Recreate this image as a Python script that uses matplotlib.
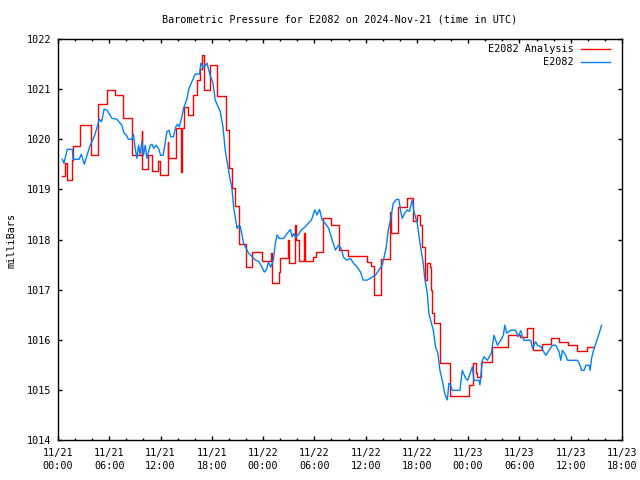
import matplotlib
matplotlib.use("Agg")
import matplotlib.pyplot as plt
import matplotlib.dates as mdates
import pandas as pd
import numpy as np

# ---- data (hours after 2024-11-21 00:00 UTC, pressure in mbar) ----
start = "2024-11-21 00:00"

obs_hours = [0.50, 0.70, 1.09, 1.68, 1.76, 2.46, 2.73, 3.08, 3.70, 4.30, 4.84, 5.10, 5.40, 5.75,
             6.29, 6.88, 7.47, 7.74, 8.00, 8.24, 8.64, 8.83, 9.03, 9.23, 9.42, 9.60, 9.81, 10.01,
             10.20, 10.40, 10.60, 10.79, 11.00, 11.20, 11.50, 11.80, 12.00, 12.30, 12.50, 12.74,
             13.00, 13.20, 13.50, 13.79, 14.00, 14.20, 14.40, 14.70, 15.10, 15.30, 15.67, 16.06,
             16.56, 16.72, 17.03, 17.43, 17.73, 18.13, 18.40, 18.99, 19.30, 19.57, 19.96, 20.16,
             20.36, 20.55, 20.95, 21.14, 21.34, 21.72, 22.11, 22.33, 22.70, 23.09, 23.50, 23.87,
             24.14, 24.40, 24.63, 24.90, 25.20, 25.43, 25.63, 25.90, 26.40, 26.81, 27.19, 27.40,
             27.60, 27.78, 28.10, 28.48, 28.90, 29.27, 29.66, 30.05, 30.30, 30.60, 30.91, 31.29,
             31.68, 32.08, 32.46, 32.85, 33.13, 33.44, 33.76, 34.23, 34.61, 35.01, 35.40, 35.71,
             36.18, 36.77, 37.16, 37.66, 37.94, 38.13, 38.41, 38.64, 38.91, 39.23, 39.61, 39.88,
             40.08, 40.28, 40.55, 40.87, 41.14, 41.34, 41.46, 41.65, 42.04, 42.43, 42.75, 42.90,
             43.22, 43.40, 43.60, 43.92, 44.18, 44.45, 44.69, 44.97, 45.24, 45.56, 45.74, 45.94,
             46.14, 47.03, 47.31, 47.70, 47.94, 48.29, 48.49, 48.67, 49.26, 49.38, 49.66, 49.85,
             50.24, 50.71, 51.02, 51.42, 51.81, 52.12, 52.28, 52.51, 52.98, 53.56, 53.83, 54.15,
             54.35, 54.54, 55.32, 55.52, 55.90, 56.10, 56.49, 57.08, 57.46, 57.86, 58.25, 58.64,
             58.83, 59.03, 59.42, 59.62, 60.79, 61.10, 61.26, 61.57, 61.77, 62.16, 62.27, 62.44,
             62.67, 62.94, 63.33, 63.61]
obs_mbar = [1019.60, 1019.52, 1019.80, 1019.80, 1019.60, 1019.60, 1019.70, 1019.50, 1019.85, 1020.08,
            1020.40, 1020.35, 1020.60, 1020.58, 1020.42, 1020.40, 1020.28, 1020.12, 1020.08, 1020.00,
            1020.00, 1020.10, 1019.82, 1019.62, 1019.88, 1019.70, 1019.95, 1019.68, 1019.88, 1019.62,
            1019.75, 1019.88, 1019.90, 1019.82, 1019.88, 1019.80, 1019.68, 1019.68, 1019.88, 1020.15,
            1020.18, 1020.05, 1020.05, 1020.25, 1020.30, 1020.25, 1020.38, 1020.62, 1020.81, 1021.00,
            1021.15, 1021.30, 1021.30, 1021.52, 1021.42, 1021.52, 1021.32, 1021.12, 1020.78, 1020.55,
            1020.25, 1019.78, 1019.38, 1019.18, 1019.02, 1018.65, 1018.22, 1018.28, 1018.26, 1017.92,
            1017.79, 1017.72, 1017.66, 1017.59, 1017.56, 1017.45, 1017.35, 1017.40, 1017.55, 1017.45,
            1017.59, 1017.92, 1018.09, 1018.02, 1018.02, 1018.12, 1018.20, 1018.05, 1018.12, 1018.05,
            1018.09, 1018.19, 1018.25, 1018.32, 1018.39, 1018.59, 1018.49, 1018.60, 1018.39, 1018.32,
            1018.22, 1017.99, 1017.79, 1017.89, 1017.82, 1017.64, 1017.59, 1017.62, 1017.52, 1017.45,
            1017.35, 1017.19, 1017.19, 1017.25, 1017.29, 1017.42, 1017.49, 1017.62, 1017.85, 1018.19,
            1018.39, 1018.72, 1018.80, 1018.80, 1018.59, 1018.42, 1018.52, 1018.59, 1018.56, 1018.72,
            1018.79, 1018.56, 1018.32, 1017.85, 1017.52, 1017.25, 1016.92, 1016.52, 1016.39, 1016.19,
            1015.86, 1015.73, 1015.39, 1015.19, 1014.93, 1014.80, 1015.13, 1015.10, 1014.99, 1014.99,
            1015.39, 1015.23, 1015.19, 1015.36, 1015.46, 1015.19, 1015.19, 1015.10, 1015.59, 1015.66,
            1015.59, 1015.73, 1016.09, 1015.89, 1015.99, 1016.09, 1016.29, 1016.13, 1016.19, 1016.19,
            1016.06, 1016.18, 1016.06, 1015.99, 1015.99, 1015.83, 1015.96, 1015.89, 1015.86, 1015.69,
            1015.79, 1015.89, 1015.89, 1015.76, 1015.59, 1015.79, 1015.69, 1015.59, 1015.59, 1015.49,
            1015.39, 1015.39, 1015.49, 1015.49, 1015.39, 1015.63, 1015.79, 1015.93, 1016.13, 1016.29]

ana_hours = [0.50, 0.82, 1.00, 1.68, 1.80, 2.58, 3.87, 4.73, 5.76, 6.65, 7.60, 8.64, 9.79, 9.87,
             10.58, 10.98, 11.76, 11.95, 12.86, 12.93, 13.85, 14.40, 14.50, 14.73, 15.27, 15.79,
             16.26, 16.56, 16.88, 17.05, 17.82, 18.64, 19.69, 19.96, 20.36, 20.75, 21.14, 22.04,
             22.70, 23.91, 24.90, 25.08, 25.82, 26.02, 26.88, 27.00, 27.78, 27.90, 28.20, 28.83,
             28.91, 29.80, 30.24, 31.02, 31.96, 32.85, 33.91, 36.18, 36.57, 36.96, 37.78, 38.80,
             38.95, 39.73, 40.85, 41.57, 42.04, 42.35, 42.60, 42.90, 43.00, 43.20, 43.52, 43.60,
             43.80, 43.95, 44.66, 45.83, 48.08, 48.60, 48.87, 49.07, 49.54, 50.83, 52.66, 54.07,
             54.94, 55.64, 56.69, 57.74, 58.64, 59.70, 60.79, 61.88, 62.67]
ana_mbar = [1019.26, 1019.52, 1019.19, 1019.59, 1019.87, 1020.28, 1019.68, 1020.71, 1020.98, 1020.88,
            1020.42, 1019.68, 1020.16, 1019.40, 1019.68, 1019.36, 1019.56, 1019.28, 1019.95, 1019.62,
            1020.22, 1019.35, 1020.22, 1020.64, 1020.48, 1020.88, 1021.18, 1021.41, 1021.68, 1020.98,
            1021.49, 1020.86, 1020.18, 1019.42, 1019.02, 1018.66, 1017.91, 1017.46, 1017.76, 1017.57,
            1017.73, 1017.13, 1017.36, 1017.63, 1017.99, 1017.54, 1018.29, 1017.99, 1017.57, 1018.12,
            1017.57, 1017.66, 1017.76, 1018.42, 1018.29, 1017.79, 1017.67, 1017.56, 1017.47, 1016.89,
            1017.62, 1018.55, 1018.12, 1018.64, 1018.82, 1018.36, 1018.49, 1018.29, 1017.85, 1017.29,
            1017.19, 1017.53, 1017.46, 1017.00, 1016.53, 1016.33, 1015.53, 1014.88, 1015.10, 1015.53,
            1015.33, 1015.26, 1015.56, 1015.85, 1016.09, 1016.05, 1016.23, 1015.79, 1015.91, 1016.03,
            1015.96, 1015.89, 1015.77, 1015.85, 1015.85]

series_labels = ["E2082 Analysis", "E2082"]
series_colors = ["#ff0000", "#0080ff"]
title = "Barometric Pressure for E2082 on 2024-Nov-21 (time in UTC)"
ylabel = "milliBars"
x_start, x_end = "2024-11-21 00:00", "2024-11-23 18:00"
y_min, y_max = 1014, 1022

# ---- plotting ----
FONT = "DejaVu Sans Mono"
FS = 7.3
plt.rcParams["font.family"] = FONT

t0 = pd.Timestamp(start)
obs_t = t0 + pd.to_timedelta(obs_hours, unit="h")
ana_t = t0 + pd.to_timedelta(ana_hours, unit="h")

fig = plt.figure(figsize=(6.4, 4.8), dpi=100)
ax = fig.add_axes([58 / 640, 1 - 440 / 480, 564 / 640, 401 / 480])

ax.plot(ana_t, ana_mbar, color=series_colors[0], lw=1.0, drawstyle="steps-post")
ax.plot(obs_t, obs_mbar, color=series_colors[1], lw=1.0)

ax.set_xlim(pd.Timestamp(x_start), pd.Timestamp(x_end))
ax.set_ylim(y_min, y_max)

ax.xaxis.set_major_locator(mdates.HourLocator(byhour=[0, 6, 12, 18]))
ax.xaxis.set_minor_locator(mdates.HourLocator(byhour=range(0, 24, 2)))
ax.xaxis.set_major_formatter(mdates.DateFormatter("%m/%d\n%H:%M"))
ax.set_yticks(np.arange(y_min, y_max + 1, 1))
ax.yaxis.set_major_formatter(matplotlib.ticker.FormatStrFormatter("%d"))

ax.tick_params(which="both", direction="in", top=True, right=True, width=1.0, color="black")
ax.tick_params(which="major", length=3.2)
ax.tick_params(which="minor", length=1.6)
ax.tick_params(axis="x", which="major", pad=6, labelsize=FS)
ax.tick_params(axis="y", which="major", pad=5, labelsize=FS)
for lab in ax.get_xticklabels():
    lab.set_linespacing(1.35)
for sp in ax.spines.values():
    sp.set_linewidth(1.0)

fig.text(340 / 640, 1 - 19 / 480, title, ha="center", va="center", fontsize=FS)
fig.text(12 / 640, 1 - 240 / 480, ylabel, ha="center", va="center", rotation=90, fontsize=FS)

# legend (top right, text right-aligned before sample line)
leg_y = [1 - (49.5 - 39) / 401, 1 - (62.5 - 39) / 401]
for lbl, col, yy in zip(series_labels, series_colors, leg_y):
    ax.text((574 - 58) / 564, yy, lbl, transform=ax.transAxes, ha="right", va="center", fontsize=FS)
    ax.plot([(581 - 58) / 564, (610 - 58) / 564], [yy, yy], transform=ax.transAxes,
            color=col, lw=1.0, clip_on=False)

fig.savefig("out.png", dpi=100)
